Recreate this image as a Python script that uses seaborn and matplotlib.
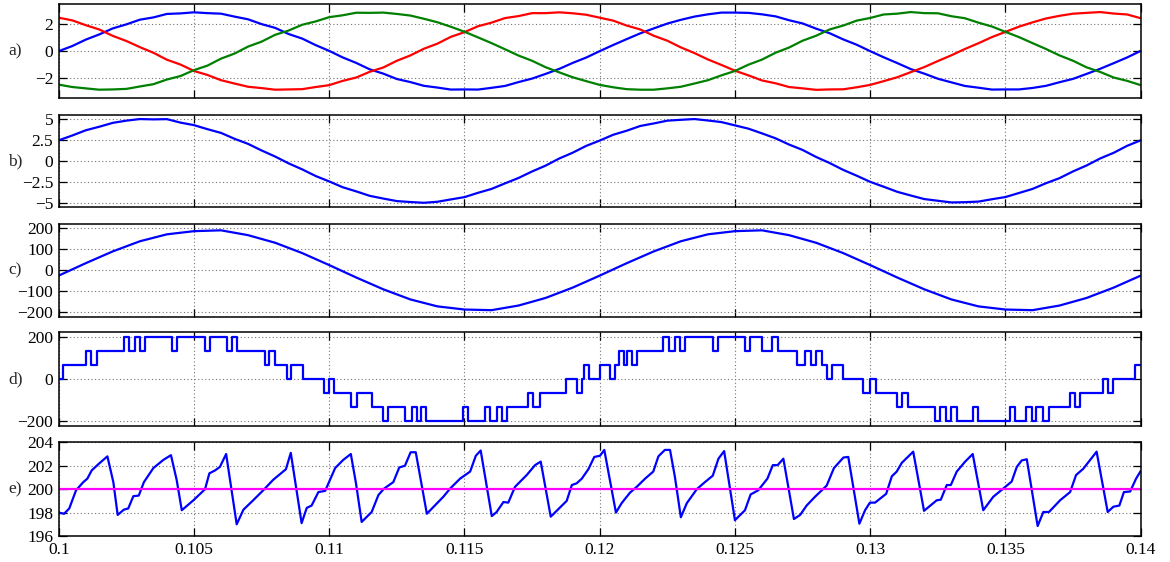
import numpy as np
import pandas as pd
import matplotlib
matplotlib.use("Agg")
import matplotlib.pyplot as plt
import seaborn as sns

# ---------------- data ----------------
# panel a : three phase signals, sampled every 0.0005 s
a_t = np.round(np.arange(81) * 0.0005 + 0.1, 5)
a_blue = [0.00, 0.38, 0.86, 1.25, 1.70, 2.00, 2.35, 2.52, 2.78, 2.82, 2.90, 2.84, 2.80, 2.58, 2.38, 2.02, 1.74, 1.28, 0.94, 0.45, 0.02,
          -0.47, -0.88, -1.36, -1.68, -2.08, -2.31, -2.59, -2.72, -2.87, -2.86, -2.87, -2.74, -2.60, -2.31, -2.05, -1.70, -1.33, -0.88, -0.48, 0.00,
          0.46, 0.90, 1.33, 1.70, 2.06, 2.34, 2.58, 2.75, 2.88, 2.88, 2.86, 2.75, 2.60, 2.31, 2.07, 1.68, 1.34, 0.88, 0.48, 0.00,
          -0.46, -0.89, -1.34, -1.68, -2.06, -2.33, -2.60, -2.73, -2.87, -2.86, -2.86, -2.75, -2.59, -2.32, -2.07, -1.70, -1.32, -0.90, -0.47, 0.02]
a_red = [2.50, 2.30, 1.94, 1.62, 1.14, 0.76, 0.30, -0.12, -0.64, -1.00, -1.48, -1.78, -2.17, -2.42, -2.66, -2.76, -2.88, -2.86, -2.84, -2.68, -2.54,
         -2.22, -1.97, -1.54, -1.22, -0.72, -0.32, 0.18, 0.56, 1.07, 1.42, 1.86, 2.13, 2.47, 2.62, 2.84, 2.84, 2.90, 2.83, 2.72, 2.50,
         2.28, 1.91, 1.62, 1.15, 0.78, 0.28, -0.14, -0.62, -1.03, -1.46, -1.81, -2.19, -2.40, -2.68, -2.78, -2.89, -2.86, -2.85, -2.70, -2.52,
         -2.24, -1.95, -1.57, -1.19, -0.74, -0.31, 0.16, 0.59, 1.05, 1.44, 1.83, 2.15, 2.44, 2.64, 2.80, 2.86, 2.92, 2.81, 2.74, 2.46]
a_green = [-2.50, -2.68, -2.78, -2.88, -2.86, -2.82, -2.64, -2.47, -2.12, -1.86, -1.42, -1.08, -0.56, -0.18, 0.34, 0.71, 1.22, 1.54, 1.97, 2.22, 2.54,
           2.68, 2.87, 2.86, 2.88, 2.78, 2.66, 2.42, 2.16, 1.82, 1.45, 1.03, 0.60, 0.14, -0.33, -0.72, -1.20, -1.58, -1.95, -2.24, -2.52,
           -2.70, -2.84, -2.88, -2.88, -2.78, -2.66, -2.42, -2.17, -1.81, -1.48, -1.01, -0.63, -0.12, 0.27, 0.78, 1.15, 1.62, 1.91, 2.28, 2.48,
           2.74, 2.80, 2.92, 2.84, 2.83, 2.61, 2.46, 2.13, 1.84, 1.44, 1.05, 0.60, 0.16, -0.32, -0.72, -1.21, -1.55, -1.97, -2.22, -2.54]

# panel b
b_t = a_t
b_val = [2.45, 3.02, 3.64, 4.06, 4.52, 4.78, 4.97, 4.93, 4.96, 4.55, 4.25, 3.77, 3.33, 2.63, 2.03, 1.25, 0.53, -0.28, -0.99, -1.78, -2.42,
         -3.11, -3.60, -4.13, -4.45, -4.75, -4.86, -4.95, -4.83, -4.55, -4.28, -3.77, -3.31, -2.65, -2.01, -1.24, -0.55, 0.29, 0.98, 1.79, 2.42,
         3.11, 3.59, 4.15, 4.45, 4.78, 4.88, 4.97, 4.80, 4.61, 4.22, 3.83, 3.27, 2.69, 1.95, 1.31, 0.48, -0.24, -1.05, -1.74, -2.47,
         -3.05, -3.65, -4.09, -4.51, -4.71, -4.91, -4.88, -4.81, -4.53, -4.27, -3.79, -3.31, -2.63, -2.03, -1.23, -0.53, 0.30, 0.97, 1.80, 2.45]

# panel c : sampled every 0.001 s
c_t = np.round(np.arange(41) * 0.001 + 0.1, 4)
c_val = [-25, 34, 90, 138, 171, 186, 190, 167, 131, 82, 25, -34, -90, -138, -171, -186, -189, -167, -131, -82,
         -25, 34, 90, 138, 171, 186, 190, 167, 131, 82, 25, -34, -90, -138, -171, -186, -189, -167, -131, -82, -25]

# panel d : stepped multilevel waveform (switching instants and new level)
d_t = [0.10000, 0.10017, 0.10101, 0.10118, 0.10140, 0.10241, 0.10261, 0.10281, 0.10301, 0.10320,
       0.10419, 0.10438, 0.10540, 0.10559, 0.10621, 0.10640, 0.10659, 0.10763, 0.10779, 0.10799,
       0.10843, 0.10860, 0.10902, 0.10981, 0.11000, 0.11019, 0.11082, 0.11102, 0.11159, 0.11199,
       0.11217, 0.11280, 0.11305, 0.11324, 0.11338, 0.11358, 0.11496, 0.11514, 0.11576, 0.11594,
       0.11619, 0.11638, 0.11658, 0.11736, 0.11755, 0.11779, 0.11876, 0.11915, 0.11934, 0.11942,
       0.11962, 0.12001, 0.12038, 0.12057, 0.12070, 0.12088, 0.12100, 0.12118, 0.12137, 0.12235,
       0.12257, 0.12277, 0.12297, 0.12315, 0.12420, 0.12439, 0.12537, 0.12556, 0.12599, 0.12638,
       0.12658, 0.12729, 0.12759, 0.12781, 0.12799, 0.12821, 0.12839, 0.12858, 0.12901, 0.12975,
       0.12999, 0.13020, 0.13098, 0.13116, 0.13139, 0.13240, 0.13258, 0.13279, 0.13298, 0.13320,
       0.13379, 0.13400, 0.13517, 0.13535, 0.13575, 0.13597, 0.13613, 0.13640, 0.13662, 0.13739,
       0.13757, 0.13776, 0.13860, 0.13880, 0.13899, 0.13979, 0.14000]
d_val = [0, 66.7, 133.3, 66.7, 133.3, 200, 133.3, 200, 133.3, 200,
         133.3, 200, 133.3, 200, 133.3, 200, 133.3, 66.7, 133.3, 66.7,
         0, 66.7, 0, -66.7, 0, -66.7, -133.3, -66.7, -133.3, -200,
         -133.3, -200, -133.3, -200, -133.3, -200, -133.3, -200, -133.3, -200,
         -133.3, -200, -133.3, -66.7, -133.3, -66.7, 0, -66.7, 0, 66.7,
         0, 66.7, 0, 66.7, 133.3, 66.7, 133.3, 66.7, 133.3, 200,
         133.3, 200, 133.3, 200, 133.3, 200, 133.3, 200, 133.3, 200,
         133.3, 66.7, 133.3, 66.7, 133.3, 66.7, 0, 66.7, 0, -66.7,
         0, -66.7, -133.3, -66.7, -133.3, -200, -133.3, -200, -133.3, -200,
         -133.3, -200, -133.3, -200, -133.3, -200, -133.3, -200, -133.3, -66.7,
         -133.3, -66.7, 0, -66.7, 0, 66.7, 66.7]

# panel e : ripple around 200 and the 200 reference
e_t = [0.10000, 0.10020, 0.10039, 0.10064, 0.10091, 0.10106, 0.10122, 0.10150, 0.10180, 0.10202,
       0.10218, 0.10241, 0.10257, 0.10276, 0.10296, 0.10315, 0.10350, 0.10387, 0.10415, 0.10436,
       0.10455, 0.10498, 0.10541, 0.10557, 0.10578, 0.10596, 0.10619, 0.10658, 0.10683, 0.10719,
       0.10756, 0.10793, 0.10840, 0.10858, 0.10898, 0.10917, 0.10935, 0.10960, 0.10985, 0.11022,
       0.11052, 0.11080, 0.11099, 0.11120, 0.11157, 0.11182, 0.11203, 0.11237, 0.11259, 0.11280,
       0.11301, 0.11320, 0.11361, 0.11422, 0.11447, 0.11484, 0.11521, 0.11542, 0.11560, 0.11601,
       0.11619, 0.11644, 0.11662, 0.11687, 0.11730, 0.11761, 0.11782, 0.11819, 0.11878, 0.11897,
       0.11915, 0.11934, 0.11958, 0.11980, 0.12001, 0.12017, 0.12060, 0.12081, 0.12112, 0.12137,
       0.12168, 0.12198, 0.12217, 0.12241, 0.12260, 0.12278, 0.12300, 0.12322, 0.12359, 0.12389,
       0.12418, 0.12439, 0.12460, 0.12500, 0.12537, 0.12558, 0.12586, 0.12620, 0.12640, 0.12658,
       0.12679, 0.12718, 0.12741, 0.12765, 0.12796, 0.12839, 0.12866, 0.12901, 0.12919, 0.12960,
       0.12981, 0.12999, 0.13018, 0.13059, 0.13080, 0.13098, 0.13117, 0.13159, 0.13199, 0.13246,
       0.13261, 0.13283, 0.13298, 0.13320, 0.13351, 0.13379, 0.13418, 0.13455, 0.13492, 0.13523,
       0.13542, 0.13560, 0.13579, 0.13619, 0.13640, 0.13661, 0.13702, 0.13739, 0.13761, 0.13788,
       0.13837, 0.13878, 0.13899, 0.13921, 0.13938, 0.13961, 0.13983, 0.14000]
e_val = [198.0, 197.9, 198.35, 199.9, 200.6, 200.9, 201.6, 202.2, 202.8, 200.6,
         197.8, 198.25, 198.35, 199.4, 199.45, 200.6, 201.8, 202.5, 202.9, 200.8,
         198.2, 199.05, 200.0, 201.35, 201.6, 201.9, 203.0, 197.0, 198.25, 199.05,
         199.9, 200.8, 201.7, 203.1, 197.1, 198.4, 198.6, 199.75, 199.85, 201.8,
         202.5, 203.0, 200.5, 197.2, 198.05, 199.5, 200.05, 200.6, 201.85, 202.0,
         203.15, 203.15, 197.9, 199.35, 200.05, 200.9, 201.5, 202.85, 203.3, 197.7,
         198.05, 198.9, 198.85, 200.2, 201.2, 202.05, 202.35, 197.65, 199.0, 200.35,
         200.5, 200.9, 201.7, 202.75, 202.85, 203.35, 198.0, 198.8, 199.7, 200.2,
         200.9, 201.5, 202.8, 203.35, 203.35, 201.05, 197.6, 198.8, 200.0, 200.6,
         201.15, 202.6, 203.25, 197.35, 198.2, 199.55, 199.9, 200.9, 202.05, 202.05,
         202.6, 197.45, 197.8, 198.6, 199.35, 200.3, 201.8, 202.7, 202.75, 197.05,
         198.2, 198.85, 198.85, 199.6, 201.1, 201.5, 202.25, 203.2, 198.15, 199.05,
         199.1, 200.35, 200.35, 201.5, 202.35, 203.0, 198.2, 199.35, 200.05, 200.65,
         201.9, 202.45, 202.55, 196.85, 198.05, 198.05, 199.05, 199.75, 201.2, 201.75,
         203.2, 198.05, 198.5, 198.6, 199.75, 199.8, 200.9, 201.55]
e_ref_t = [0.10, 0.14]
e_ref = [200, 200]

# ticks and labels
x_ticks = [0.1, 0.105, 0.11, 0.115, 0.12, 0.125, 0.13, 0.135, 0.14]
x_labels = ["0.1", "0.105", "0.11", "0.115", "0.12", "0.125", "0.13", "0.135", "0.14"]
panel_names = ["a)", "b)", "c)", "d)", "e)"]
y_ticks = [[-2, 0, 2], [-5, -2.5, 0, 2.5, 5], [-200, -100, 0, 100, 200], [-200, 0, 200], [196, 198, 200, 202, 204]]
y_labels = [["\u22122", "0", "2"],
            ["\u22125", "\u22122.5", "0", "2.5", "5"],
            ["\u2212200", "\u2212100", "0", "100", "200"],
            ["\u2212200", "0", "200"],
            ["196", "198", "200", "202", "204"]]
y_lims = [(-3.5, 3.5), (-5.45, 5.45), (-220, 220), (-225, 223), (196, 204)]

# ---------------- plotting ----------------
sns.set_style("ticks")
plt.rcParams["font.family"] = ["Liberation Serif", "DejaVu Serif"]
plt.rcParams["axes.unicode_minus"] = True

W, H = 1170, 562
fig = plt.figure(figsize=(W / 100, H / 100), dpi=100)

left_px, right_px = 58.7, 1140.7
panel_px = [(4.3, 98.0), (115.0, 207.0), (224.0, 316.7), (332.3, 426.0), (442.3, 536.0)]
zero_px = [51.0, 161.3, 270.3, 379.3, 489.0]

axes = []
for top, bot in panel_px:
    ax = fig.add_axes([left_px / W, 1 - bot / H, (right_px - left_px) / W, (bot - top) / H])
    axes.append(ax)

lw = 1.6
sns.lineplot(x=a_t, y=a_blue, ax=axes[0], color="#0000ff", lw=lw, estimator=None, errorbar=None, sort=False)
sns.lineplot(x=a_t, y=a_red, ax=axes[0], color="#ff0000", lw=lw, estimator=None, errorbar=None, sort=False)
sns.lineplot(x=a_t, y=a_green, ax=axes[0], color="#008000", lw=lw, estimator=None, errorbar=None, sort=False)
sns.lineplot(x=b_t, y=b_val, ax=axes[1], color="#0000ff", lw=lw, estimator=None, errorbar=None, sort=False)
sns.lineplot(x=c_t, y=c_val, ax=axes[2], color="#0000ff", lw=lw, estimator=None, errorbar=None, sort=False)
sns.lineplot(x=d_t, y=d_val, ax=axes[3], color="#0000ff", lw=lw, estimator=None, errorbar=None, sort=False,
             drawstyle="steps-post")
sns.lineplot(x=e_t, y=e_val, ax=axes[4], color="#0000ff", lw=lw, estimator=None, errorbar=None, sort=False)
sns.lineplot(x=e_ref_t, y=e_ref, ax=axes[4], color="#ff00ff", lw=lw, estimator=None, errorbar=None, sort=False)

for i, ax in enumerate(axes):
    ax.set_xlim(0.1, 0.14)
    ax.set_ylim(*y_lims[i])
    ax.set_xticks(x_ticks)
    ax.set_yticks(y_ticks[i])
    ax.set_yticklabels(y_labels[i])
    if i == 4:
        ax.set_xticklabels(x_labels)
    else:
        ax.set_xticklabels([])
    ax.set_xlabel("")
    ax.set_ylabel("")
    ax.tick_params(direction="in", top=True, right=True, length=6, width=0.9,
                   labelsize=12.5, pad=4, colors="black")
    ax.grid(True, linestyle=(0, (1, 2.2)), color="0.45", linewidth=0.8)
    ax.set_axisbelow(True)
    for s in ax.spines.values():
        s.set_visible(True)
        s.set_linewidth(1.1)
        s.set_color("black")
    fig.text(8 / W, 1 - zero_px[i] / H, panel_names[i], fontsize=12.5, ha="left", va="center")

fig.savefig("out.png", dpi=100)
